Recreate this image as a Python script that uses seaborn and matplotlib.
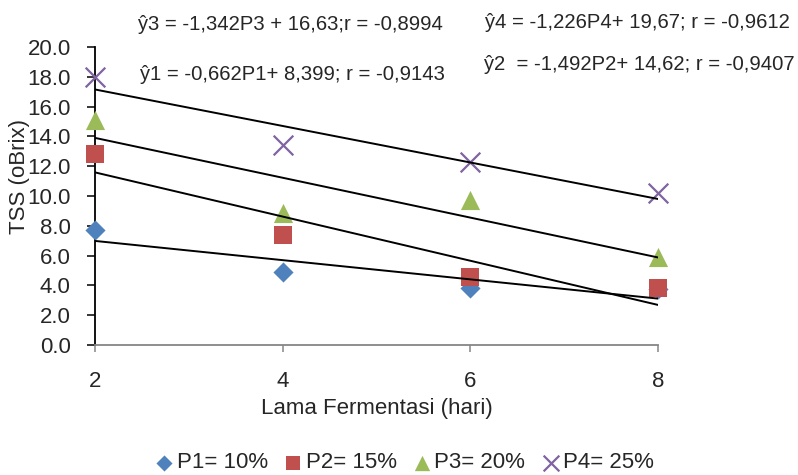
import matplotlib
matplotlib.use("Agg")
import matplotlib.pyplot as plt
import seaborn as sns
import pandas as pd

# Data TSS per perlakuan
hari = [2, 4, 6, 8]
p1 = [7.7, 4.9, 3.85, 3.75]
p2 = [12.8, 7.35, 4.55, 3.85]
p3 = [15.1, 8.85, 9.7, 5.9]
p4 = [18.0, 13.4, 12.3, 10.2]

seri = [p1, p2, p3, p4]
label = ["P1= 10%", "P2= 15%", "P3= 20%", "P4= 25%"]
warna = ["#4F81BD", "#C0504D", "#9BBB59", "#8064A2"]
penanda = ["D", "s", "^", "x"]
ukuran = [105, 170, 190, 200]

# Teks persamaan regresi: (teks, x piksel kiri, y piksel tengah)
persamaan = [
    ("ŷ3 = -1,342P3 + 16,63;r = -0,8994", 138, 24),
    ("ŷ4 = -1,226P4+ 19,67; r = -0,9612", 485, 23),
    ("ŷ1 = -0,662P1+ 8,399; r = -0,9143", 140, 75),
    ("ŷ2  = -1,492P2+ 14,62; r = -0,9407", 484, 64),
]

W, H = 798, 475

sns.set_theme(style="white")
plt.rcParams['font.family'] = ['Liberation Sans', 'DejaVu Sans']
FS = 16

fig = plt.figure(figsize=(W / 100, H / 100), dpi=100)
ax = fig.add_axes([95 / W, 1 - 345 / H, (658 - 95) / W, (345 - 47) / H])

# Titik data
for y, lab, c, m, s in zip(seri, label, warna, penanda, ukuran):
    df = pd.DataFrame({"hari": hari, "tss": y})
    if m == "x":
        sns.scatterplot(data=df, x="hari", y="tss", marker=m, color=c, s=s,
                        linewidth=1.6, ax=ax, label=lab, zorder=3, clip_on=False)
    else:
        sns.scatterplot(data=df, x="hari", y="tss", marker=m, color=c, s=s,
                        edgecolor=c, linewidth=0, ax=ax, label=lab, zorder=3,
                        clip_on=False)

# Garis tren linier (di atas titik)
for y in seri:
    df = pd.DataFrame({"hari": hari, "tss": y})
    sns.regplot(data=df, x="hari", y="tss", scatter=False, ci=None, color="black",
                line_kws={"linewidth": 1.4, "zorder": 4}, ax=ax)

handles, labels_ = ax.get_legend_handles_labels()
ax.get_legend().remove()

ax.set_xlim(2, 8)
ax.set_ylim(0, 20)
ax.set_xticks(hari)
ax.set_yticks(range(0, 21, 2))
ax.set_yticklabels([f"{v:.1f}" for v in range(0, 21, 2)])

ax.spines["top"].set_visible(False)
ax.spines["right"].set_visible(False)
ax.spines["left"].set_color("black")
ax.spines["left"].set_linewidth(1.3)
ax.spines["bottom"].set_color("#868686")
ax.spines["bottom"].set_linewidth(1.3)

ax.tick_params(axis="y", direction="out", length=5.5, width=1.1, color="black",
               pad=12, labelsize=FS, left=True)
ax.tick_params(axis="x", direction="out", length=5, width=1.1, color="#868686",
               pad=14, labelsize=FS, bottom=True)

ax.set_xlabel("Lama Fermentasi (hari)", fontsize=FS, labelpad=4)
ax.set_ylabel("")
fig.text(20 / W, 1 - 176 / H, "TSS (oBrix)", rotation=90, ha="center", va="center",
         fontsize=FS)

for teks, px, py in persamaan:
    fig.text(px / W, 1 - py / H, teks, ha="left", va="center", fontsize=14.6)

fig.legend(handles, labels_, loc="center", bbox_to_anchor=(403 / W, 1 - 463 / H),
           ncol=4, frameon=False, fontsize=FS, markerscale=0.8,
           handletextpad=0.0, columnspacing=0.6, handlelength=1.1)

fig.savefig("out.png", dpi=100)
